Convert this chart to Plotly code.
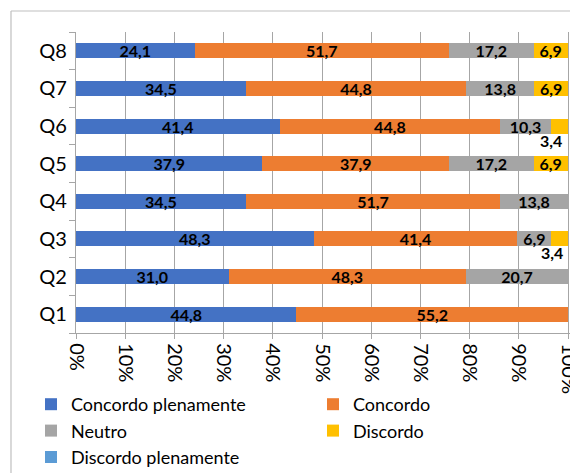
import plotly.graph_objects as go

# Survey questions (bottom to top) and the share of answers per option (%)
questions = ["Q1", "Q2", "Q3", "Q4", "Q5", "Q6", "Q7", "Q8"]
concordo_plenamente = [44.8, 31.0, 48.3, 34.5, 37.9, 41.4, 34.5, 24.1]
concordo = [55.2, 48.3, 41.4, 51.7, 37.9, 44.8, 44.8, 51.7]
neutro = [0.0, 20.7, 6.9, 13.8, 17.2, 10.3, 13.8, 17.2]
discordo = [0.0, 0.0, 3.4, 0.0, 6.9, 3.4, 6.9, 6.9]
discordo_plenamente = [0.0, 0.0, 0.0, 0.0, 0.0, 0.0, 0.0, 0.0]

x_ticks = [0, 10, 20, 30, 40, 50, 60, 70, 80, 90, 100]
x_tick_labels = [f"{v}%" for v in x_ticks]

series = [
    ("Concordo plenamente", concordo_plenamente, "#4472C4", "legend"),
    ("Concordo", concordo, "#ED7D31", "legend2"),
    ("Neutro", neutro, "#A5A5A5", "legend"),
    ("Discordo", discordo, "#FFC000", "legend2"),
    ("Discordo plenamente", discordo_plenamente, "#5B9BD5", "legend"),
]

FONT = "Lato, 'Open Sans', sans-serif"
GRID = "#A6A6A6"
SMALL = 5.0  # segments narrower than this get their label below the bar
X_MAX = 100.4  # a little headroom so the 100% grid line and label are kept


def fmt(v):
    return f"{v:.1f}".replace(".", ",")


fig = go.Figure()
for name, vals, color, leg in series:
    labels = [fmt(v) if v >= SMALL else "" for v in vals]
    fig.add_trace(go.Bar(
        name=name, y=questions, x=vals, orientation="h",
        marker=dict(color=color, line=dict(width=0)),
        text=labels, textposition="inside", insidetextanchor="middle",
        textangle=0, constraintext="none",
        textfont=dict(family=FONT, size=16, color="black", weight="bold"),
        legend=leg, hoverinfo="skip",
    ))

# labels of the thin segments, placed under the bar end
annotations = []
for idx, (name, vals, color, leg) in enumerate(series):
    for i, v in enumerate(vals):
        if 0 < v < SMALL:
            start = sum(series[k][1][i] for k in range(idx))
            annotations.append(dict(
                x=start + v / 2, y=questions[i], xref="x", yref="y",
                text=f"<b>{fmt(v)}</b>", showarrow=False,
                xshift=-8, yshift=-14,
                font=dict(family=FONT, size=16, color="black"),
            ))

# plot area in pixels
L, T = 76, 32
W = round(492 * X_MAX / 100)
H = 301
px = lambda p: (p - L) / W
py = lambda p: (T + H - p) / H

# outer chart frame
shapes = [
    dict(type="line", xref="paper", yref="paper", x0=px(11), x1=px(11),
         y0=py(11), y1=py(480), line=dict(color="#BFBFBF", width=1.2)),
    dict(type="line", xref="paper", yref="paper", x0=px(11), x1=px(580),
         y0=py(11), y1=py(11), line=dict(color="#BFBFBF", width=1.2)),
]

legend_style = dict(
    yanchor="top", xanchor="left", orientation="v", traceorder="normal",
    font=dict(family=FONT, size=18, color="black"),
    bgcolor="rgba(0,0,0,0)", itemclick=False, tracegroupgap=0,
)

fig.update_layout(
    width=570, height=473,
    margin=dict(l=L, r=max(570 - L - W, 0), t=T, b=473 - T - H,
                autoexpand=False),
    paper_bgcolor="white", plot_bgcolor="white",
    barmode="stack", bargap=0.6,
    font=dict(family=FONT, size=20, color="black"),
    xaxis=dict(
        range=[0, X_MAX], tickvals=x_ticks, ticktext=x_tick_labels,
        tickangle=90, showgrid=True, gridcolor=GRID, gridwidth=1.3,
        showline=True, linecolor=GRID, linewidth=1.3,
        ticks="outside", ticklen=5, tickcolor=GRID, tickwidth=1.3,
        tickfont=dict(family=FONT, size=20, color="black"),
        ticklabeloverflow="allow",
        zeroline=False, fixedrange=True, automargin=False,
    ),
    yaxis=dict(
        type="category", categoryorder="array", categoryarray=questions,
        showgrid=False, showline=True, linecolor=GRID, linewidth=1.3,
        ticks="outside", ticklen=6, tickcolor=GRID, tickwidth=1.3,
        tickson="boundaries", ticklabelstandoff=4,
        tickfont=dict(family=FONT, size=20, color="black"),
        fixedrange=True, automargin=False,
    ),
    legend=dict(x=px(31), y=py(386), **legend_style),
    legend2=dict(x=px(313), y=py(386), **legend_style),
    annotations=annotations,
    shapes=shapes,
    showlegend=True,
)

fig.write_html("out.html")
